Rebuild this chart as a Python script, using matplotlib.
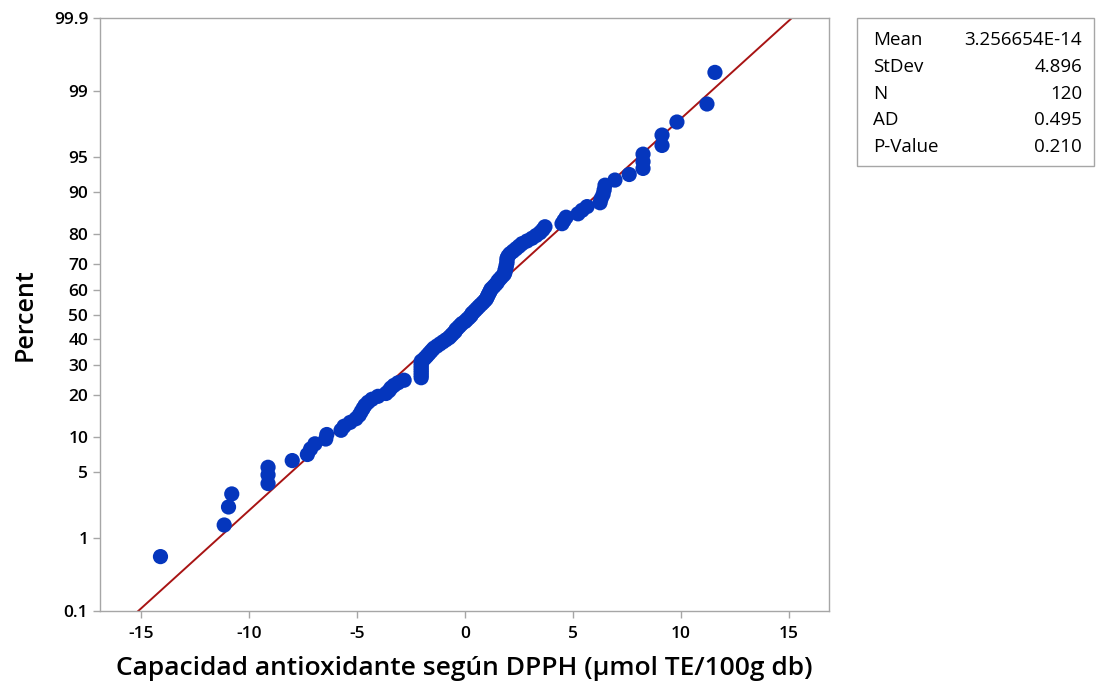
import numpy as np
import matplotlib
matplotlib.use("Agg")
import matplotlib.pyplot as plt
from statistics import NormalDist

plt.rcParams["font.family"] = ["Open Sans", "DejaVu Sans"]
plt.rcParams["axes.unicode_minus"] = False

# residuos ordenados (120 valores)
residuos = [
    -14.10, -11.15, -10.95, -10.80, -9.12, -9.12, -9.12, -8.00, -7.30, -7.15,
    -6.95, -6.45, -6.40, -5.74, -5.60, -5.32, -5.05, -4.90, -4.81, -4.72,
    -4.63, -4.49, -4.31, -4.03, -3.66, -3.52, -3.43, -3.29, -3.10, -2.82,
    -2.03, -2.03, -2.03, -2.03, -2.03, -2.03, -2.03, -2.03, -1.90, -1.80,
    -1.71, -1.62, -1.53, -1.44, -1.30, -1.16, -1.02, -0.88, -0.74, -0.65,
    -0.56, -0.46, -0.42, -0.32, -0.23, -0.14, 0.00, 0.09, 0.19, 0.28,
    0.32, 0.42, 0.51, 0.60, 0.69, 0.79, 0.88, 0.97, 1.02, 1.06,
    1.11, 1.16, 1.20, 1.30, 1.39, 1.48, 1.53, 1.62, 1.71, 1.81,
    1.85, 1.85, 1.90, 1.90, 1.94, 1.94, 1.94, 1.99, 2.08, 2.22,
    2.36, 2.50, 2.64, 2.87, 3.10, 3.29, 3.47, 3.60, 3.70, 4.49,
    4.58, 4.68, 5.23, 5.42, 5.65, 6.25, 6.30, 6.39, 6.44, 6.48,
    6.94, 7.60, 8.24, 8.24, 8.24, 9.12, 9.12, 9.81, 11.20, 11.57,
]

media = 3.256654e-14
desv = 4.896
ad = 0.495
p_valor = 0.210

yticks = [0.1, 1, 5, 10, 20, 30, 40, 50, 60, 70, 80, 90, 95, 99, 99.9]
xticks = [-15, -10, -5, 0, 5, 10, 15]

nd = NormalDist()
_ppf = np.vectorize(nd.inv_cdf, otypes=[float])
_cdf = np.vectorize(nd.cdf, otypes=[float])


def a_z(p):
    p = np.clip(np.asarray(p, dtype=float) / 100.0, 1e-9, 1 - 1e-9)
    return _ppf(p)


def a_pct(z):
    return _cdf(np.asarray(z, dtype=float)) * 100.0


n = len(residuos)
x = np.sort(residuos)
pct = 100.0 * (np.arange(1, n + 1) - 0.3) / (n + 0.4)  # rangos medianos

fig = plt.figure(figsize=(10.96, 6.88), dpi=100)
ax = fig.add_axes([100 / 1096, 77 / 688, 729 / 1096, 593 / 688])
ax.set_yscale("function", functions=(a_z, a_pct))

# recta ajustada de la normal
p_lin = np.array([0.1, 99.9])
x_lin = media + desv * a_z(p_lin)
ax.plot(x_lin, p_lin, color="#a81414", lw=1.4, zorder=2)

ax.scatter(x, pct, s=120, color="#0536bd", edgecolors="none", zorder=3)

ax.set_xlim(-16.9, 16.85)
ax.set_ylim(0.1, 99.9)
ax.set_yticks(yticks)
ax.set_yticklabels([str(t) for t in yticks])
ax.set_xticks(xticks)
ax.minorticks_off()

for s in ax.spines.values():
    s.set_color("#a6a6a6")
    s.set_linewidth(1.0)
ax.tick_params(axis="both", colors="#a6a6a6", length=5, width=1,
               labelcolor="black", labelsize=12.5)
ax.tick_params(axis="x", pad=6)
for lab in ax.get_xticklabels() + ax.get_yticklabels():
    lab.set_fontweight("semibold")

ax.set_xlabel("Capacidad antioxidante según DPPH (μmol TE/100g db)",
              fontsize=19, fontweight="semibold", labelpad=10)
ax.set_ylabel("Percent", fontsize=18, fontweight="semibold", labelpad=12)

# cuadro con los estadísticos
caja = plt.Rectangle((857 / 1096, 1 - 166 / 688), (1094 - 857) / 1096,
                     (166 - 18) / 688, transform=fig.transFigure,
                     facecolor="white", edgecolor="#a6a6a6", lw=1.0)
fig.patches.append(caja)
filas = [("Mean", "3.256654E-14"), ("StDev", f"{desv:.3f}"), ("N", str(n)),
         ("AD", f"{ad:.3f}"), ("P-Value", f"{p_valor:.3f}")]
for k, (etq, val) in enumerate(filas):
    yy = 1 - (40 + k * 26.8) / 688
    fig.text(873 / 1096, yy, etq, fontsize=13.5, va="center", ha="left",
             fontweight="medium")
    fig.text(1082 / 1096, yy, val, fontsize=13.5, va="center", ha="right",
             fontweight="medium")

fig.savefig("out.png", dpi=100)
